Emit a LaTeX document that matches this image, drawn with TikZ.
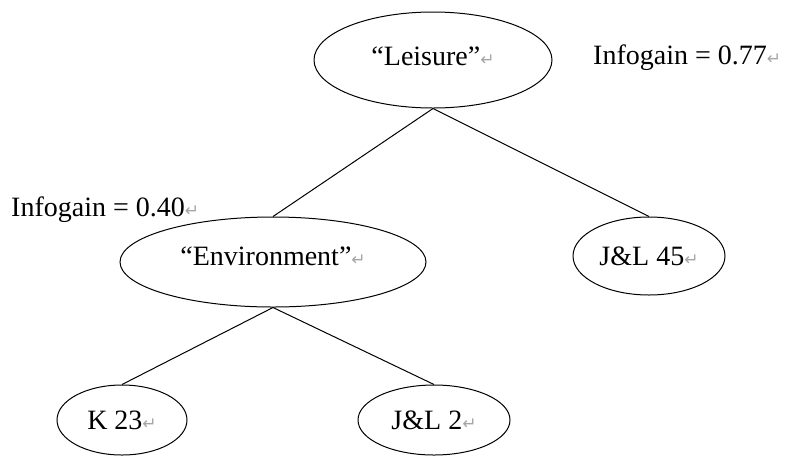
\documentclass[tikz,border=0pt]{standalone}
\usepackage{fontspec}
\setmainfont{Liberation Serif}
\newfontfamily\marksfont{DejaVu Sans}
\usetikzlibrary{shapes.geometric}

% Word paragraph mark after each text
\newcommand{\parmark}{{\marksfont\color{gray!70}\fontsize{17}{17}\selectfont ↵}}

\begin{document}
\begin{tikzpicture}[x=1pt,y=-1pt,
    every node/.style={font=\fontsize{28}{32}\selectfont},
    leaf/.style={draw,ellipse,line width=1pt,inner sep=0pt},
    branch/.style={line width=1pt}]
\useasboundingbox (0,0) rectangle (786,456);

\node[leaf,minimum width=238pt,minimum height=96pt] (leisure) at (433,60) {\raisebox{7pt}{“Leisure”\parmark}};
\node[leaf,minimum width=306pt,minimum height=90pt] (environ) at (273,262) {\raisebox{12pt}{“Environment”\parmark}};
\node[leaf,minimum width=152pt,minimum height=78pt] (jl45) at (649,256) {J\&L 45\parmark};
\node[leaf,minimum width=130pt,minimum height=70pt] (k23) at (122,420) {K 23\parmark};
\node[leaf,minimum width=152pt,minimum height=70pt] (jl2) at (434,420) {J\&L 2\parmark};

\node[anchor=west,inner sep=0pt] (gaintop) at (593,58) {Infogain = 0.77\parmark};
\node[anchor=west,inner sep=0pt] (gainenv) at (11,210) {Infogain = 0.40\parmark};

\draw[branch] (leisure.south)--(environ.north);
\draw[branch] (leisure.south)--(jl45.north);
\draw[branch] (environ.south)--(k23.north);
\draw[branch] (environ.south)--(jl2.north);

\end{tikzpicture}
\end{document}
